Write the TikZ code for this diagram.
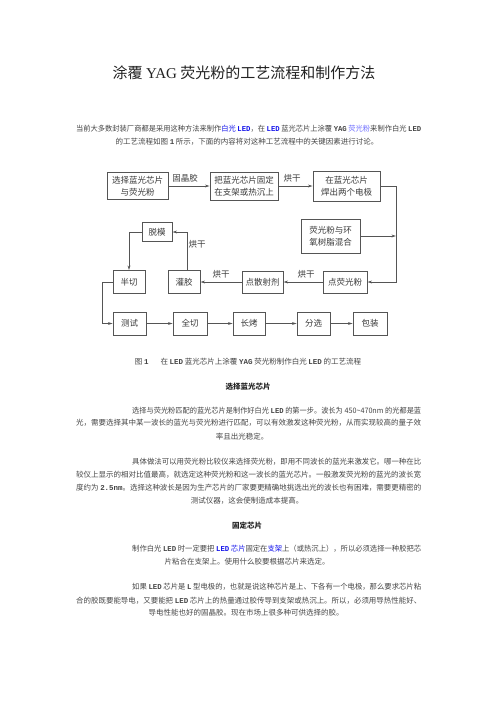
\documentclass[tikz,border=0pt]{standalone}
\usepackage{fontspec}
\usepackage{graphicx}
\setmainfont{Noto Sans CJK SC}
\newfontfamily\monolat{Liberation Mono}
\newfontfamily\seriflat{Liberation Serif}
\usetikzlibrary{arrows.meta}
\definecolor{txt}{HTML}{444444}
\definecolor{ttl}{HTML}{222222}
\definecolor{figtxt}{HTML}{3A3A3A}
\definecolor{linec}{HTML}{555555}
\definecolor{lnkb}{RGB}{20,20,235}
\definecolor{lnkp}{RGB}{110,110,255}
\newcommand\lat[1]{{\monolat\bfseries #1}}
\newcommand\fullline[1]{\resizebox{345pt}{\height}{#1}}
\newcommand\firstline[1]{\resizebox{289pt}{\height}{#1}}
\tikzset{
  body/.style={inner sep=0pt, font=\fontsize{7.5}{9}\selectfont, text=txt},
  bodyw/.style={body, anchor=west},
  head/.style={inner sep=0pt, font=\fontsize{7.5}{9}\selectfont\bfseries, text=ttl},
  box/.style={draw=linec, line width=0.9pt, fill=white, inner sep=0pt, align=center,
    font=\fontsize{8.5}{12}\selectfont, text=figtxt},
  lbl/.style={inner sep=0pt, font=\fontsize{8.5}{10}\selectfont, text=figtxt},
  conn/.style={draw=linec, line width=0.9pt, -{Stealth[length=4.5pt,width=2.8pt]}},
  plain/.style={draw=linec, line width=0.9pt}
}
\begin{document}
\begin{tikzpicture}[x=1pt,y=-1pt]
\useasboundingbox (0,0) rectangle (496,702);
% title
\node[inner sep=0pt, font=\fontsize{15}{18}\selectfont, text=ttl] (title) at (244,73) {涂覆 {\seriflat YAG} 荧光粉的工艺流程和制作方法};
% paragraph 1
\node[bodyw] (p1a) at (76,129) {\fullline{当前大多数封装厂商都是采用这种方法来制作\textcolor{lnkb}{白光 \lat{LED}}，在 \textcolor{lnkb}{\lat{LED}} 蓝光芯片上涂覆 \lat{YAG} \textcolor{lnkp}{荧光粉}来制作白光 \lat{LED}}};
\node[body] (p1b) at (247,142) {的工艺流程如图 \lat{1} 所示，下面的内容将对这种工艺流程中的关键因素进行讨论。};
% flowchart
\node[box, minimum width=61pt, minimum height=27pt] (b1) at (137.5,186) {选择蓝光芯片\\与荧光粉};
\node[box, minimum width=68pt, minimum height=28pt] (b2) at (244,186) {把蓝光芯片固定\\在支架或热沉上};
\node[box, minimum width=67pt, minimum height=30pt] (b3) at (346.5,186) {在蓝光芯片\\焊出两个电极};
\node[box, minimum width=59pt, minimum height=34pt] (b4) at (330.5,236) {荧光粉与环\\氧树脂混合};
\node[box, minimum width=30pt, minimum height=19pt] (b5) at (157,232) {脱模};
\node[box, minimum width=32pt, minimum height=23pt] (b6) at (129,282) {半切};
\node[box, minimum width=32pt, minimum height=23pt] (b7) at (184,282) {灌胶};
\node[box, minimum width=41pt, minimum height=22pt] (b8) at (262.5,282) {点散射剂};
\node[box, minimum width=44pt, minimum height=22pt] (b9) at (345,282) {点荧光粉};
\node[box, minimum width=33pt, minimum height=23pt] (b10) at (129.5,323.5) {测试};
\node[box, minimum width=34pt, minimum height=23pt] (b11) at (190,323.5) {全切};
\node[box, minimum width=32pt, minimum height=23pt] (b12) at (249,323.5) {长烤};
\node[box, minimum width=33pt, minimum height=23pt] (b13) at (313.5,323.5) {分选};
\node[box, minimum width=34pt, minimum height=23pt] (b14) at (370,323.5) {包装};
% labels
\node[lbl] (l1) at (185,178) {固晶胶};
\node[lbl] (l2) at (292,178) {烘干};
\node[lbl] (l3) at (306,274) {烘干};
\node[lbl] (l4) at (221,274) {烘干};
\node[lbl] (l5) at (197,244) {烘干};
% helper coordinates
\coordinate (c2) at (396,282);
\coordinate (c3) at (187,232);
\coordinate (c4) at (102,282);
% connectors
\draw[conn] (b1.east) -- (b2.west);
\draw[conn] (b2.east) -- (b3.west);
\draw[conn] (b3.east) -- (b3.east -| c2) -- (c2) -- (b9.east);
\draw[conn] (b4.east) -- (b4.east -| c2);
\draw[conn] (b9.west) -- (b8.east);
\draw[conn] (b8.west) -- (b7.east);
\draw[conn] (b7.north -| c3) -- (c3) -- (b5.east);
\draw[conn] (b5.west) -| (b6.north);
\draw[conn] (b6.west) -- (c4) |- (b10.west);
\draw[conn] (b10.east) -- (b11.west);
\draw[conn] (b11.east) -- (b12.west);
\draw[conn] (b12.east) -- (b13.west);
\draw[conn] (b13.east) -- (b14.west);
% caption
\node[body] (cap) at (248,362) {图 \lat{1}\hspace{12pt}在 \lat{LED} 蓝光芯片上涂覆 \lat{YAG} 荧光粉制作白光 \lat{LED} 的工艺流程};
% heading 1
\node[head] (h1) at (248,387) {选择蓝光芯片};
% paragraph 2
\node[bodyw] (p2a) at (132,411) {\firstline{选择与荧光粉匹配的蓝光芯片是制作好白光 \lat{LED} 的第一步。波长为 450\textasciitilde470nm 的光都是蓝}};
\node[bodyw] (p2b) at (76,423) {\fullline{光，需要选择其中某一波长的蓝光与荧光粉进行匹配，可以有效激发这种荧光粉，从而实现较高的量子效}};
\node[body] (p2c) at (242,437) {率且出光稳定。};
% paragraph 3
\node[bodyw] (p3a) at (132,462) {\firstline{具体做法可以用荧光粉比较仪来选择荧光粉，即用不同波长的蓝光来激发它。哪一种在比}};
\node[bodyw] (p3b) at (76,475) {\fullline{较仪上显示的相对比值最高，就选定这种荧光粉和这一波长的蓝光芯片。一般激发荧光粉的蓝光的波长宽}};
\node[bodyw] (p3c) at (76,488) {\fullline{度约为 \lat{2.5nm}。选择这种波长是因为生产芯片的厂家要更精确地挑选出光的波长也有困难，需要更精密的}};
\node[body] (p3d) at (247,501) {测试仪器，这会使制造成本提高。};
% heading 2
\node[head] (h2) at (247,526) {固定芯片};
% paragraph 4
\node[bodyw] (p4a) at (132,549) {\firstline{制作白光 \lat{LED} 时一定要把 \textcolor{lnkb}{\lat{LED} 芯片}固定在\textcolor{lnkb}{支架}上（或热沉上），所以必须选择一种胶把芯}};
\node[body] (p4b) at (247,562) {片粘合在支架上。使用什么胶要根据芯片来选定。};
% paragraph 5
\node[bodyw] (p5a) at (132,587) {\firstline{如果 \lat{LED} 芯片是 \lat{L} 型电极的，也就是说这种芯片是上、下各有一个电极，那么要求芯片粘}};
\node[bodyw] (p5b) at (76,601) {\fullline{合的胶既要能导电，又要能把 \lat{LED} 芯片上的热量通过胶传导到支架或热沉上。所以，必须用导热性能好、}};
\node[body] (p5c) at (246,613) {导电性能也好的固晶胶。现在市场上很多种可供选择的胶。};
\end{tikzpicture}
\end{document}
